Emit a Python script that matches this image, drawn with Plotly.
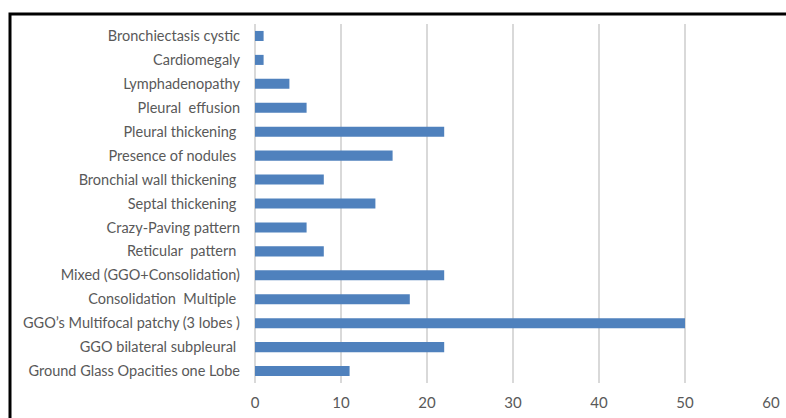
import plotly.graph_objects as go

# Imaging findings, listed bottom-to-top as they appear on the y axis
findings = [
    "Ground Glass Opacities one Lobe",
    "GGO bilateral subpleural ",
    "GGO’s Multifocal patchy (3 lobes )",
    "Consolidation  Multiple ",
    "Mixed (GGO+Consolidation)",
    "Reticular  pattern ",
    "Crazy-Paving pattern",
    "Septal thickening ",
    "Bronchial wall thickening ",
    "Presence of nodules ",
    "Pleural thickening ",
    "Pleural  effusion",
    "Lymphadenopathy",
    "Cardiomegaly",
    "Bronchiectasis cystic",
]
counts = [11, 22, 50, 18, 22, 8, 6, 14, 8, 16, 22, 6, 4, 1, 1]
x_ticks = [0, 10, 20, 30, 40, 50, 60]

text_color = "#595959"
font_family = "Lato, Open Sans, sans-serif"

fig = go.Figure(
    go.Bar(
        y=findings,
        x=counts,
        orientation="h",
        marker=dict(color="#4f81bd", line=dict(width=0)),
        width=0.42,
    )
)

L, R, T, B = 255, 15, 24, 35
W, H = 786, 418
pw, ph = W - L - R, H - T - B

fig.update_layout(
    width=W,
    height=H,
    margin=dict(l=L, r=R, t=T, b=B, autoexpand=False),
    paper_bgcolor="white",
    plot_bgcolor="white",
    showlegend=False,
    font=dict(family=font_family, size=14.5, color=text_color),
    xaxis=dict(
        range=[0, 60],
        tickvals=x_ticks,
        showgrid=True,
        gridcolor="#d9d9d9",
        gridwidth=1.5,
        zeroline=True,
        zerolinecolor="#d9d9d9",
        zerolinewidth=1.5,
        showline=False,
        ticks="",
        automargin=False,
        tickfont=dict(size=15, color=text_color),
        ticklabelstandoff=9,
        fixedrange=True,
    ),
    yaxis=dict(
        categoryorder="array",
        categoryarray=findings,
        showgrid=False,
        zeroline=False,
        showline=False,
        ticks="",
        automargin=False,
        ticklabelstandoff=14,
        tickfont=dict(size=14.5, color=text_color),
        fixedrange=True,
    ),
    shapes=[
        dict(
            type="rect",
            xref="paper",
            yref="paper",
            x0=(10 - L) / pw,
            x1=(W + 6 - L) / pw,
            y0=-(B + 6) / ph,
            y1=(H - B - 14) / ph,
            line=dict(color="black", width=3),
            fillcolor="rgba(0,0,0,0)",
            layer="above",
        )
    ],
)

fig.write_html("out.html")
